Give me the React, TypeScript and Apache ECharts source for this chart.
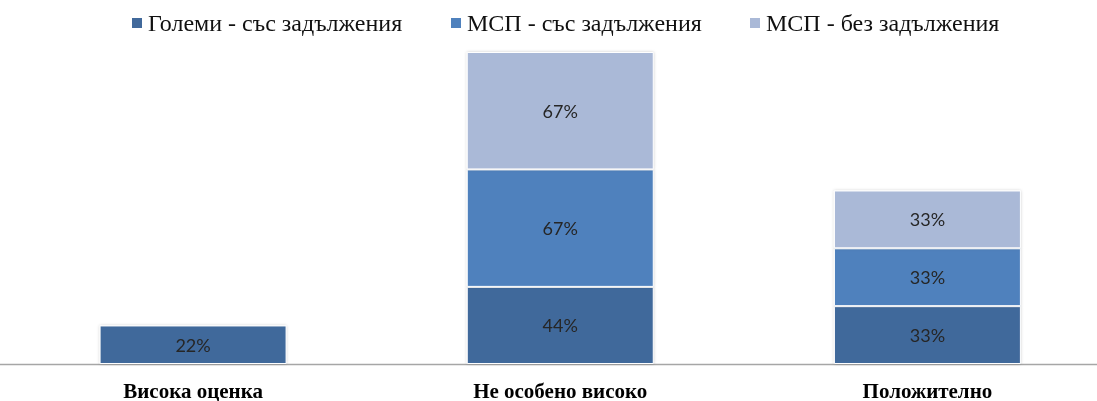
import React, { useEffect, useRef } from "react";
import * as echarts from "echarts";

const categories = ["Висока оценка", "Не особено високо", "Положително"];
const seriesNames = ["Големи - със задължения", "МСП - със задължения", "МСП - без задължения"];
const largeWith = [22, 44, 33];
const smeWith = [null, 67, 33];
const smeWithout = [null, 67, 33];
const colors = ["#41699B", "#4F81BD", "#AAB9D7"];
const legendLefts = [125, 444, 743];

export default function App() {
  const ref = useRef<HTMLDivElement>(null);
  useEffect(() => {
    document.body.style.margin = "0";
    document.body.style.overflow = "hidden";
    const chart = echarts.init(ref.current!, undefined, { renderer: "svg" });
    const values = [largeWith, smeWith, smeWithout];
    chart.setOption({
      animation: false,
      legend: seriesNames.map((name, i) => ({
        top: 6,
        left: legendLefts[i],
        itemWidth: 12,
        itemHeight: 12,
        icon: "rect",
        textStyle: { fontFamily: "Liberation Serif", fontSize: 24, color: "#111" },
        data: [name],
      })),
      grid: { left: 9.5, right: 0, top: 52, bottom: 37 },
      xAxis: {
        type: "category",
        data: categories,
        axisLine: { show: false },
        axisTick: { show: false },
        axisLabel: {
          margin: 16,
          fontFamily: "Liberation Serif",
          fontWeight: "bold",
          fontSize: 21,
          color: "#000",
        },
      },
      yAxis: { type: "value", min: 0, max: 178, show: false, splitLine: { show: false } },
      graphic: [
        {
          type: "line",
          shape: { x1: 0, y1: 364.5, x2: 1111, y2: 364.5 },
          style: { stroke: "#A6A6A6", lineWidth: 1.5 },
          z: 1,
        },
      ],
      series: seriesNames.map((name, i) => ({
        name,
        type: "bar",
        stack: "total",
        barWidth: 187,
        data: values[i],
        itemStyle: {
          color: colors[i],
          borderColor: "#fff",
          borderWidth: 1,
          shadowBlur: 3,
          shadowColor: "rgba(0,0,0,0.2)",
        },
        label: {
          show: true,
          position: "inside",
          formatter: (p: any) => (p.value == null ? "" : p.value + "%"),
          fontFamily: "Lato",
          fontSize: 18,
          color: "#262626",
        },
        z: 2,
      })),
    });
    return () => chart.dispose();
  }, []);
  return <div ref={ref} style={{ position: "fixed", left: 0, top: 0, width: 1111, height: 401 }} />;
}
